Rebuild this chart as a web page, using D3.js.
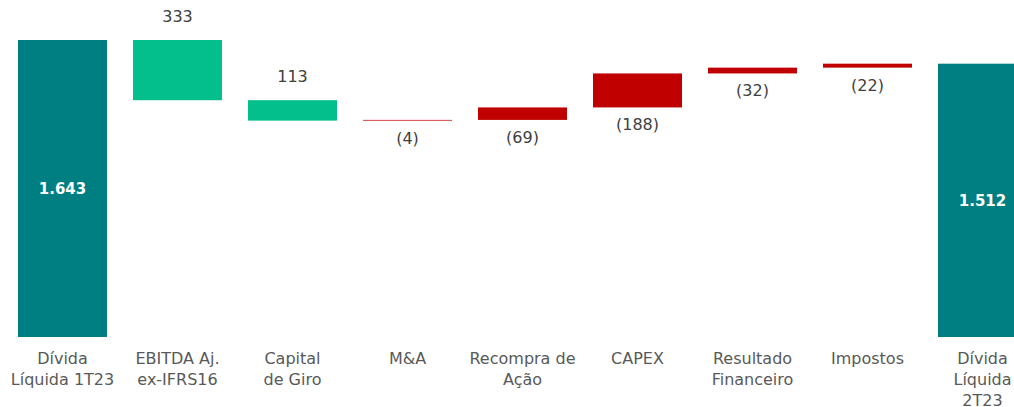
<!DOCTYPE html>
<html><head><meta charset="utf-8">
<script src="https://cdn.jsdelivr.net/npm/d3@7"></script>
<style>body{margin:0;background:#fff;}svg{display:block;}</style>
</head><body>
<svg id="c" width="1014" height="407"></svg>
<script>
const categories = [["Dívida","Líquida 1T23"],["EBITDA Aj.","ex-IFRS16"],["Capital","de Giro"],["M&A"],["Recompra de","Ação"],["CAPEX"],["Resultado","Financeiro"],["Impostos"],["Dívida","Líquida","2T23"]];
const kinds = ["total","delta","delta","delta","delta","delta","delta","delta","total"];
const values = [1643, 333, 113, -4, -69, -188, -32, -22, 1512];
const valueLabels = ["1.643","333","113","(4)","(69)","(188)","(32)","(22)","1.512"];

const svg = d3.select("#c");
const x = d3.scaleBand().domain(d3.range(categories.length)).range([5, 1040]).paddingInner(0.226).paddingOuter(0.113);
const y = d3.scaleLinear().domain([0, 1643]).range([337, 40]);

// waterfall: positive deltas reduce debt
let running = 0;
const segs = values.map((v, i) => {
  if (kinds[i] === "total") { running = v; return {i, lo: 0, hi: v, v}; }
  const start = running;
  running = running - v;
  return {i, lo: Math.min(start, running), hi: Math.max(start, running), v};
});

const color = d => kinds[d.i] === "total" ? "#007F83" : (d.v > 0 ? "#02BF8B" : "#C00000");
const font = "'DejaVu Sans', sans-serif";

svg.selectAll("rect.bar").data(segs).enter().append("rect")
  .attr("x", d => x(d.i)).attr("width", x.bandwidth())
  .attr("y", d => y(d.hi)).attr("height", d => y(d.lo) - y(d.hi))
  .attr("fill", color);

svg.selectAll("text.val").data(segs).enter().append("text")
  .attr("x", d => x(d.i) + x.bandwidth()/2)
  .attr("y", d => kinds[d.i] === "total" ? (y(d.hi)+y(d.lo))/2 + 5.5 : (d.v > 0 ? y(d.hi) - 18 : y(d.lo) + 23))
  .attr("text-anchor", "middle")
  .attr("font-family", font)
  .attr("font-size", d => kinds[d.i] === "total" ? 15 : 16)
  .attr("font-weight", d => kinds[d.i] === "total" ? 700 : 400)
  .attr("fill", d => kinds[d.i] === "total" ? "#fff" : "#404040")
  .text(d => valueLabels[d.i]);

const lab = svg.selectAll("text.lab").data(categories).enter().append("text")
  .attr("text-anchor", "middle")
  .attr("font-family", font)
  .attr("font-size", 16)
  .attr("fill", "#595959");
lab.each(function(lines, i) {
  const t = d3.select(this);
  lines.forEach((l, k) => t.append("tspan").attr("x", x(i) + x.bandwidth()/2).attr("y", 364 + k*21).text(l));
});
</script>
</body></html>
